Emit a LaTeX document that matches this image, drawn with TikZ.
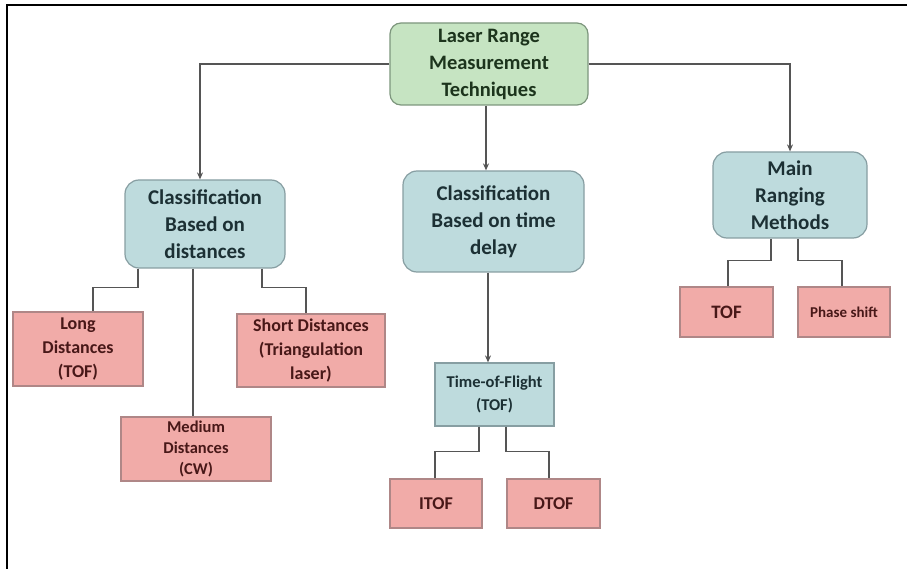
\documentclass[tikz,border=0pt]{standalone}
\usepackage{fontspec}
\setmainfont{Carlito}
\usetikzlibrary{arrows.meta}
\definecolor{gfill}{RGB}{198,228,194}
\definecolor{gdraw}{RGB}{125,150,125}
\definecolor{gtext}{RGB}{28,52,28}
\definecolor{tfill}{RGB}{190,219,221}
\definecolor{tdraw}{RGB}{135,158,162}
\definecolor{ttext}{RGB}{28,48,52}
\definecolor{pfill}{RGB}{241,171,168}
\definecolor{pdraw}{RGB}{175,135,135}
\definecolor{ptext}{RGB}{72,24,24}
\definecolor{lcol}{RGB}{85,85,85}
\tikzset{
  gbox/.style={draw=gdraw, fill=gfill, line width=1.2pt, rounded corners=11pt, align=center, inner sep=0pt, text=gtext, font=\fontsize{20.5}{27}\selectfont\bfseries},
  tbox/.style={draw=tdraw, fill=tfill, line width=1.2pt, rounded corners=14pt, align=center, inner sep=0pt, text=ttext, font=\fontsize{21}{27}\selectfont\bfseries},
  tsq/.style={draw=tdraw, fill=tfill, line width=1.2pt, align=center, inner sep=0pt, text=ttext, font=\fontsize{16.5}{23}\selectfont\bfseries},
  pbox/.style={draw=pdraw, fill=pfill, line width=1.2pt, align=center, inner sep=0pt, text=ptext, font=\fontsize{18}{24}\selectfont\bfseries},
  conn/.style={draw=lcol, line width=1.6pt},
  arr/.style={conn, -{Stealth[length=7pt,width=6pt]}},
}
\begin{document}
\begin{tikzpicture}[x=1pt,y=-1pt]
\useasboundingbox (0,0) rectangle (907,569);
\draw[line width=2.5pt, line cap=rect] (7,569) -- (7,5) -- (907,5);

\node[gbox, minimum width=198pt, minimum height=82pt] (top) at (489,64) {Laser Range\\Measurement\\Techniques};

\node[tbox, minimum width=160pt, minimum height=88pt] (cd) at (205,224) {Classification\\Based on\\distances};
\node[tbox, minimum width=181pt, minimum height=101pt] (ct) at (493.5,221.5) {Classification\\Based on time\\delay};
\node[tbox, minimum width=154pt, minimum height=86pt] (mr) at (790,195) {Main\\Ranging\\Methods};

\node[pbox, minimum width=130pt, minimum height=74pt] (long) at (78,349) {Long\\Distances\\(TOF)};
\node[pbox, minimum width=148pt, minimum height=73pt] (short) at (311,350.5) {Short Distances\\(Triangulation\\laser)};
\node[pbox, minimum width=150pt, minimum height=64pt, font=\fontsize{16.5}{21}\selectfont\bfseries] (med) at (196,449) {Medium\\Distances\\(CW)};

\node[tsq, minimum width=119pt, minimum height=63pt] (tof) at (494.5,394.5) {Time-of-Flight\\(TOF)};
\node[pbox, minimum width=92pt, minimum height=49pt] (itof) at (436,503.5) {ITOF};
\node[pbox, minimum width=93pt, minimum height=49pt] (dtof) at (553.5,503.5) {DTOF};

\node[pbox, minimum width=93pt, minimum height=50pt, font=\fontsize{19}{24}\selectfont\bfseries] (tofm) at (726.5,312) {TOF};
\node[pbox, minimum width=92pt, minimum height=50pt, font=\fontsize{15}{20}\selectfont\bfseries] (ps) at (844,312) {Phase shift};

% top-level arrows
\draw[arr] (top.west) -| ([xshift=-5pt]cd.north);
\draw[arr] (top.east) -| (mr.north);
\draw[arr] ([xshift=-3pt]top.south) -- ([xshift=-3pt]top.south |- ct.north);

% distances
\draw[conn] ([xshift=-67pt]cd.south) |- ([xshift=15pt,yshift=24pt]long.north) -- ([xshift=15pt]long.north);
\draw[conn] ([xshift=-12pt]cd.south) -- ([xshift=-12pt]cd.south |- med.north);
\draw[conn] ([xshift=57pt]cd.south) |- ([xshift=-5pt,yshift=26pt]short.north) -- ([xshift=-5pt]short.north);

% time delay
\draw[arr] ([xshift=-5.5pt]ct.south) -- ([xshift=-5.5pt]ct.south |- tof.north);
\draw[conn] ([xshift=-15.5pt]tof.south) |- ([xshift=-1pt,yshift=27pt]itof.north) -- ([xshift=-1pt]itof.north);
\draw[conn] ([xshift=11.5pt]tof.south) |- ([xshift=-4.5pt,yshift=27pt]dtof.north) -- ([xshift=-4.5pt]dtof.north);

% main ranging
\draw[conn] ([xshift=-19pt]mr.south) |- ([xshift=1.5pt,yshift=26pt]tofm.north) -- ([xshift=1.5pt]tofm.north);
\draw[conn] ([xshift=8pt]mr.south) |- ([xshift=-2pt,yshift=26pt]ps.north) -- ([xshift=-2pt]ps.north);
\end{tikzpicture}
\end{document}
